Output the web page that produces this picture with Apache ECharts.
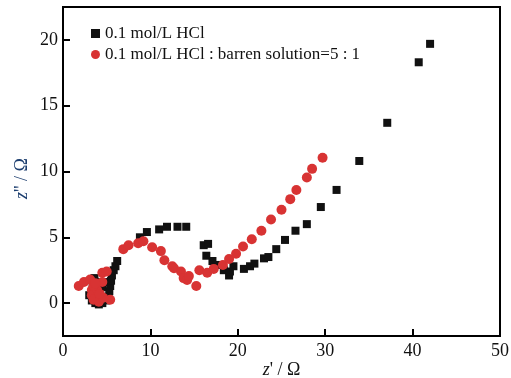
<!DOCTYPE html>
<html>
<head>
<meta charset="utf-8">
<script src="https://cdn.jsdelivr.net/npm/echarts@6/dist/echarts.min.js"></script>
<style>
  html, body { margin: 0; padding: 0; background: #fff; }
  #chart { width: 511px; height: 378px; }
</style>
</head>
<body>
<div id="chart"></div>
<script>
// Nyquist data, [z', z'']
const hclPoints = [
  [3.0, 0.6], [3.3, 0.2], [3.7, 0.0], [4.1, -0.1], [4.5, 0.0], [4.9, 0.2], [5.2, 0.5],
  [3.4, 1.4], [3.6, 1.9], [4.0, 1.6], [4.5, 1.2], [4.8, 1.6],
  [5.3, 0.9], [5.4, 1.3], [5.5, 1.7], [5.6, 2.1], [5.8, 2.5], [6.0, 2.8], [6.2, 3.2],
  [8.8, 5.0], [9.6, 5.4], [11.0, 5.6], [11.9, 5.8], [13.1, 5.8], [14.1, 5.8],
  [16.1, 4.4], [16.6, 4.5], [16.4, 3.6], [17.1, 3.2], [17.6, 2.9], [18.4, 2.5], [19.0, 2.1],
  [19.1, 2.4], [19.5, 2.8], [20.7, 2.6], [21.4, 2.8], [21.9, 3.0], [23.0, 3.4], [23.5, 3.5],
  [24.4, 4.1], [25.4, 4.8], [26.6, 5.5], [27.9, 6.0], [29.5, 7.3], [31.3, 8.6],
  [33.9, 10.8], [37.1, 13.7], [40.7, 18.3], [42.0, 19.7]
];
const mixPoints = [
  [1.8, 1.3], [2.4, 1.6], [3.1, 1.8], [3.3, 1.0], [3.3, 0.6], [3.5, 0.25], [4.1, 0.1],
  [4.6, 0.4], [5.4, 0.25], [3.9, 1.0], [3.5, 1.3], [4.5, 1.6], [4.5, 2.3], [5.0, 2.4],
  [3.7, 1.5], [4.2, 0.7],
  [6.9, 4.1], [7.5, 4.4], [8.6, 4.55], [9.2, 4.7], [10.2, 4.25], [11.2, 3.95], [11.6, 3.25],
  [12.5, 2.8], [12.7, 2.65], [13.5, 2.4], [13.8, 1.9], [14.2, 1.75], [14.4, 2.05],
  [15.25, 1.3], [15.6, 2.5], [16.5, 2.3], [17.25, 2.6], [18.3, 2.9], [19.0, 3.35],
  [19.8, 3.75], [20.6, 4.3], [21.6, 4.85], [22.7, 5.5], [23.8, 6.35], [25.0, 7.1],
  [26.0, 7.9], [26.7, 8.6], [27.9, 9.55], [28.5, 10.2], [29.7, 11.05]
];
const seriesNames = ['0.1 mol/L HCl', '0.1 mol/L HCl : barren solution=5 : 1'];
const yTicks = [0, 5, 10, 15, 20];

const font = 'Liberation Serif';

const chart = echarts.init(document.getElementById('chart'));
chart.setOption({
  animation: false,
  textStyle: { fontFamily: font },
  grid: {
    left: 63, right: 11, top: 7, bottom: 42,
    outerBoundsMode: 'none',
    show: true, borderColor: '#000', borderWidth: 2
  },
  legend: {
    orient: 'vertical',
    left: 86, top: 20,
    itemWidth: 9, itemHeight: 9, itemGap: 4,
    textStyle: { fontFamily: font, fontSize: 17, color: '#111' },
    data: [
      { name: seriesNames[0], icon: 'rect' },
      { name: seriesNames[1], icon: 'circle' }
    ]
  },
  xAxis: {
    type: 'value',
    min: 0, max: 50, interval: 10,
    name: '{i|z}\' / Ω',
    nameLocation: 'middle',
    nameMoveOverlap: false,
    nameGap: 25,
    nameTextStyle: {
      fontFamily: font, fontSize: 18, color: '#111',
      rich: { i: { fontFamily: font, fontSize: 18, fontStyle: 'italic', color: '#111' } }
    },
    axisLine: { onZero: false, lineStyle: { color: '#000', width: 2 } },
    axisTick: { inside: true, length: 7, lineStyle: { color: '#000', width: 2 } },
    axisLabel: { fontFamily: font, fontSize: 18, color: '#111', margin: 6 },
    splitLine: { show: false }
  },
  yAxis: {
    type: 'value',
    min: -2.5, max: 22.5,
    name: '{i|z}\'\' / Ω',
    nameLocation: 'middle',
    nameMoveOverlap: false,
    nameGap: 32,
    nameTextStyle: {
      fontFamily: font, fontSize: 18, color: '#1b3d6e',
      padding: [0, 14, 0, 0],
      rich: { i: { fontFamily: font, fontSize: 18, fontStyle: 'italic', color: '#1b3d6e' } }
    },
    axisLine: { onZero: false, lineStyle: { color: '#000', width: 2 } },
    axisTick: { inside: true, length: 7, customValues: yTicks, lineStyle: { color: '#000', width: 2 } },
    axisLabel: { fontFamily: font, fontSize: 18, color: '#111', margin: 5, customValues: yTicks },
    splitLine: { show: false }
  },
  series: [
    {
      name: seriesNames[0],
      type: 'scatter',
      symbol: 'rect',
      symbolSize: 8,
      itemStyle: { color: '#111', opacity: 1 },
      data: hclPoints
    },
    {
      name: seriesNames[1],
      type: 'scatter',
      symbol: 'circle',
      symbolSize: 10,
      itemStyle: { color: '#d83333', opacity: 1 },
      data: mixPoints
    }
  ]
});
</script>
</body>
</html>
